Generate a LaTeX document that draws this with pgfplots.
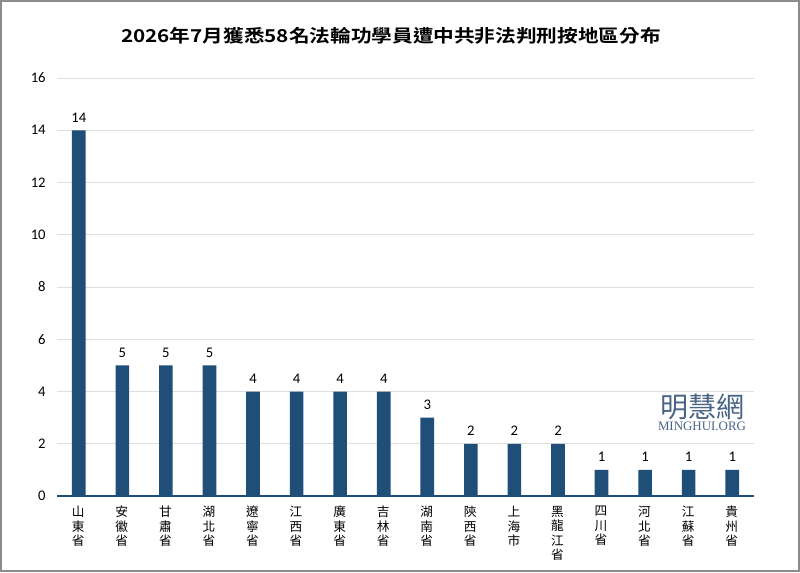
\documentclass[border=0pt]{standalone}
\usepackage{pgfplots}
\usepackage{fontspec}
\pgfplotsset{compat=1.18}
\setmainfont{Carlito}
\newfontfamily\cjk{Noto Sans CJK TC}
\newfontfamily\cjkb{Noto Sans CJK TC Bold}
\newfontfamily\lib{Liberation Serif}
\definecolor{bar}{HTML}{1F4E79}
\definecolor{gridc}{HTML}{DEDEDE}
\definecolor{framec}{HTML}{8C8C8C}
\definecolor{wm}{HTML}{4A6485}
\begin{document}
\begin{tikzpicture}
\fill[white] (0pt,0pt) rectangle (600pt,429pt);
\draw[framec,line width=1.2pt] (0.6pt,0.6pt) rectangle (599.4pt,428.4pt);
\begin{axis}[
  at={(42.75pt,57pt)}, anchor=south west,
  scale only axis, width=522.75pt, height=313.5pt,
  xmin=-0.5, xmax=15.5, ymin=0, ymax=16,
  ytick={0,2,...,16},
  xtick={0,...,15},
  xticklabels={山\\東\\省,安\\徽\\省,甘\\肅\\省,湖\\北\\省,遼\\寧\\省,江\\西\\省,廣\\東\\省,吉\\林\\省,湖\\南\\省,陝\\西\\省,上\\海\\市,黑\\龍\\江\\省,四\\川\\省,河\\北\\省,江\\蘇\\省,貴\\州\\省},
  x tick label style={font=\cjk\fontsize{9.5}{10.9}\selectfont, align=center, anchor=north, yshift=-4pt, xshift=-0.4pt, text=black},
  y tick label style={font=\fontsize{11}{12}\selectfont, text=black, xshift=-5pt},
  /pgf/number format/assume math mode=true,
  major tick length=0pt,
  axis x line*=bottom, axis y line*=left,
  x axis line style={draw=bar,line width=1pt,-},
  y axis line style={draw=none},
  ymajorgrids, grid style={gridc,line width=0.6pt},
  clip=false,
  ybar, bar width=10.2pt,
  nodes near coords,
  nodes near coords style={font=\fontsize{11}{12}\selectfont, text=black, yshift=2.4pt},
]
\addplot[fill=bar,draw=none] coordinates {
(0,14)(1,5)(2,5)(3,5)(4,4)(5,4)(6,4)(7,4)(8,3)(9,2)(10,2)(11,2)(12,1)(13,1)(14,1)(15,1)};
\end{axis}
\node[font=\cjkb\fontsize{13.3}{15}\selectfont, anchor=center, xscale=1.165] at (293.25pt,402pt) {2026年7月獲悉58名法輪功學員遭中共非法判刑按地區分布};
\node[font=\cjk\fontsize{21}{23}\selectfont, text=wm, anchor=center] at (526.5pt,123.5pt) {明慧網};
\node[font=\lib\fontsize{9.7}{11}\selectfont, text=wm, anchor=center] at (526.5pt,109pt) {MINGHUI.ORG};
\end{tikzpicture}
\end{document}
